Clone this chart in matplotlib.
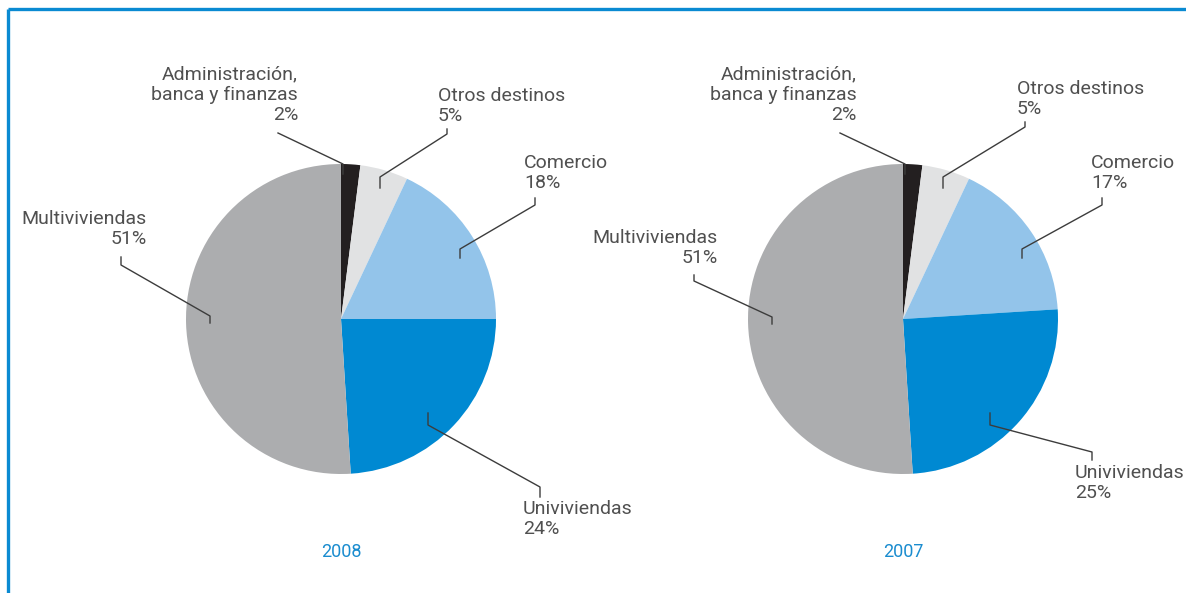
import matplotlib.pyplot as plt

W, H = 1186, 593

# ── data ──────────────────────────────────────────────
sectores = ["Administración,\nbanca y finanzas", "Otros destinos", "Comercio",
            "Univiviendas", "Multiviviendas"]
valores_2008 = [2, 5, 18, 24, 51]
valores_2007 = [2, 5, 17, 25, 51]
anios = ["2008", "2007"]
colores = ["#231f20", "#e1e2e3", "#93c4ea", "#0089d2", "#acadaf"]

# ── layout (pixel coords, y from top) ─────────────────
centros = [(341, 319), (903, 319)]
radio = 155
# label anchor (x, y, ha) for each sector, per pie
pos_labels = [
    [(298, 95, "right"), (438, 106, "left"), (524, 173, "left"),
     (523, 519, "left"), (147, 229, "right")],
    [(857, 95, "right"), (1017, 99, "left"), (1091, 173, "left"),
     (1075, 483, "left"), (718, 248, "right")],
]
# leader lines
guias = [
    [[(278, 133), (343, 164), (343, 174)],
     [(447, 129), (447, 134), (380, 177), (380, 188)],
     [(535, 198), (535, 205), (460, 249), (460, 258)],
     [(428, 413), (428, 425), (540, 487), (540, 497)],
     [(121, 257), (121, 265), (210, 316), (210, 323)]],
    [[(840, 133), (905, 164), (905, 174)],
     [(1025, 122), (1025, 127), (943, 177), (943, 188)],
     [(1102, 198), (1102, 205), (1022, 249), (1022, 258)],
     [(990, 413), (990, 425), (1092, 452), (1092, 460)],
     [(694, 275), (694, 281), (772, 317), (772, 324)]],
]

plt.rcParams['font.family'] = ['Roboto', 'DejaVu Sans']
texto = "#505050"
azul = "#1a8ccf"

fig = plt.figure(figsize=(W / 100, H / 100), dpi=100)
ax = fig.add_axes([0, 0, 1, 1])


def P(x, y):
    return x, H - y


for k, vals in enumerate([valores_2008, valores_2007]):
    cx, cy = centros[k]
    ax.pie(vals, colors=colores, startangle=90, counterclock=False,
           center=P(cx, cy), radius=radio,
           wedgeprops=dict(linewidth=0, antialiased=True))
    for i, (nombre, v) in enumerate(zip(sectores, vals)):
        x, y, ha = pos_labels[k][i]
        ax.text(*P(x, y), f"{nombre}\n{v}%", ha=ha, va="center",
                multialignment=ha, fontsize=14, color=texto, linespacing=1.15)
        pts = [P(a, b) for a, b in guias[k][i]]
        ax.plot([p[0] for p in pts], [p[1] for p in pts], color="#3c3c3c", lw=1.0)
    ax.text(*P(cx, 552), anios[k], ha="center", va="center", fontsize=13, color=azul)

# frame (top + left)
ax.plot([8, W], [H - 9, H - 9], color="#0a8ad2", lw=2.4, clip_on=False, solid_capstyle="butt")
ax.plot([8, 8], [H - 9, 0], color="#0a8ad2", lw=2.4, clip_on=False, solid_capstyle="butt")

ax.set_xlim(0, W)
ax.set_ylim(0, H)
ax.set_aspect("equal")
ax.axis("off")

fig.savefig("out.png", dpi=100)
